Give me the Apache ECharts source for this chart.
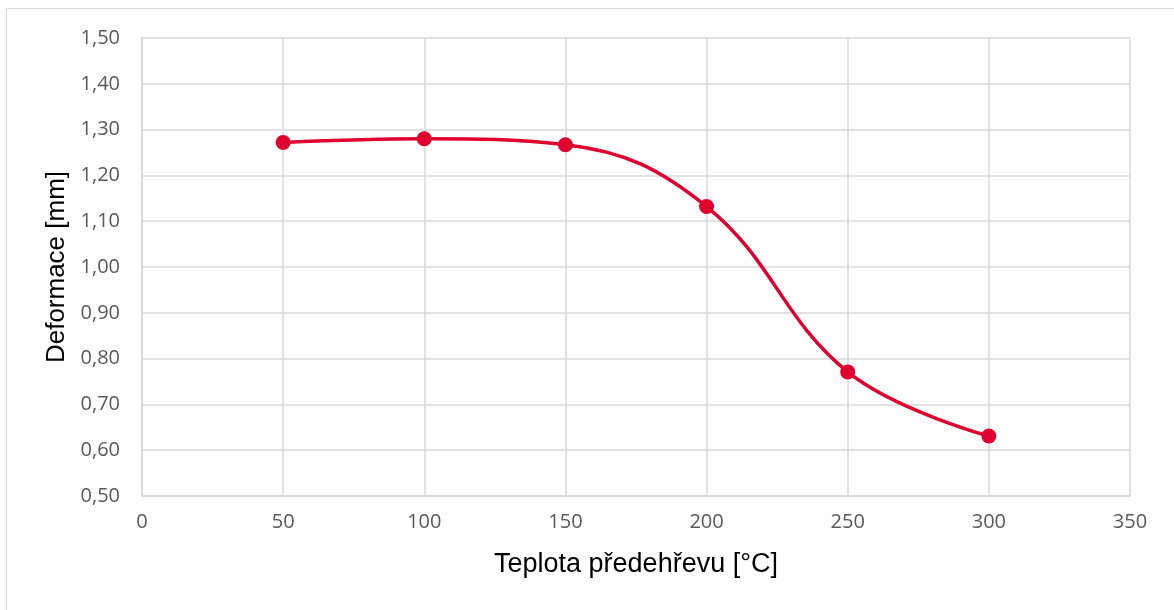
<!DOCTYPE html>
<html><head><meta charset="utf-8">
<script src="https://cdn.jsdelivr.net/npm/echarts@6/dist/echarts.min.js"></script>
<style>html,body{margin:0;padding:0;background:#fff}#c{width:1174px;height:610px}</style>
</head><body><div id="c"></div>
<script>
const temps = [50, 100, 150, 200, 250, 300];
const deform = [1.272, 1.280, 1.267, 1.132, 0.771, 0.631];
const xTitle = 'Teplota předehřevu [°C]';
const yTitle = 'Deformace [mm]';

const chart = echarts.init(document.getElementById('c'));
chart.setOption({
  animation: false,
  backgroundColor: '#fff',
  graphic: [{type:'rect', shape:{x:6.5,y:8.5,width:1170,height:610}, style:{fill:'none',stroke:'#d9d9d9',lineWidth:1}, silent:true}],
  grid: {left: 142, right: 44, top: 38, bottom: 114},
  xAxis: {
    type: 'value', min: 0, max: 350, interval: 50,
    name: xTitle, nameLocation: 'middle', nameGap: 55,
    nameTextStyle: {fontFamily: 'Liberation Sans', fontSize: 27, color: '#000'},
    axisLine: {show: true, lineStyle: {color: '#d9d9d9', width: 1.5}},
    axisTick: {show: false},
    axisLabel: {fontFamily: 'Open Sans', fontSize: 20, color: '#595959', margin: 16},
    splitLine: {show: true, lineStyle: {color: '#d9d9d9', width: 1.5}}
  },
  yAxis: {
    type: 'value', min: 0.5, max: 1.5, interval: 0.1,
    name: yTitle, nameLocation: 'middle', nameGap: 72,
    nameTextStyle: {fontFamily: 'Liberation Sans', fontSize: 26, color: '#000'},
    axisLine: {show: true, lineStyle: {color: '#d9d9d9', width: 1.5}},
    axisTick: {show: false},
    axisLabel: {fontFamily: 'Open Sans', fontSize: 20, color: '#595959', margin: 22,
      formatter: v => v.toFixed(2).replace('.', ',')},
    splitLine: {show: true, lineStyle: {color: '#d9d9d9', width: 1.5}}
  },
  series: [{
    type: 'line', smooth: 0.4,
    data: temps.map((t, i) => [t, deform[i]]),
    symbol: 'circle', symbolSize: 15,
    lineStyle: {color: '#E0002F', width: 3.5},
    itemStyle: {color: '#E0002F'}
  }]
});
</script></body></html>
